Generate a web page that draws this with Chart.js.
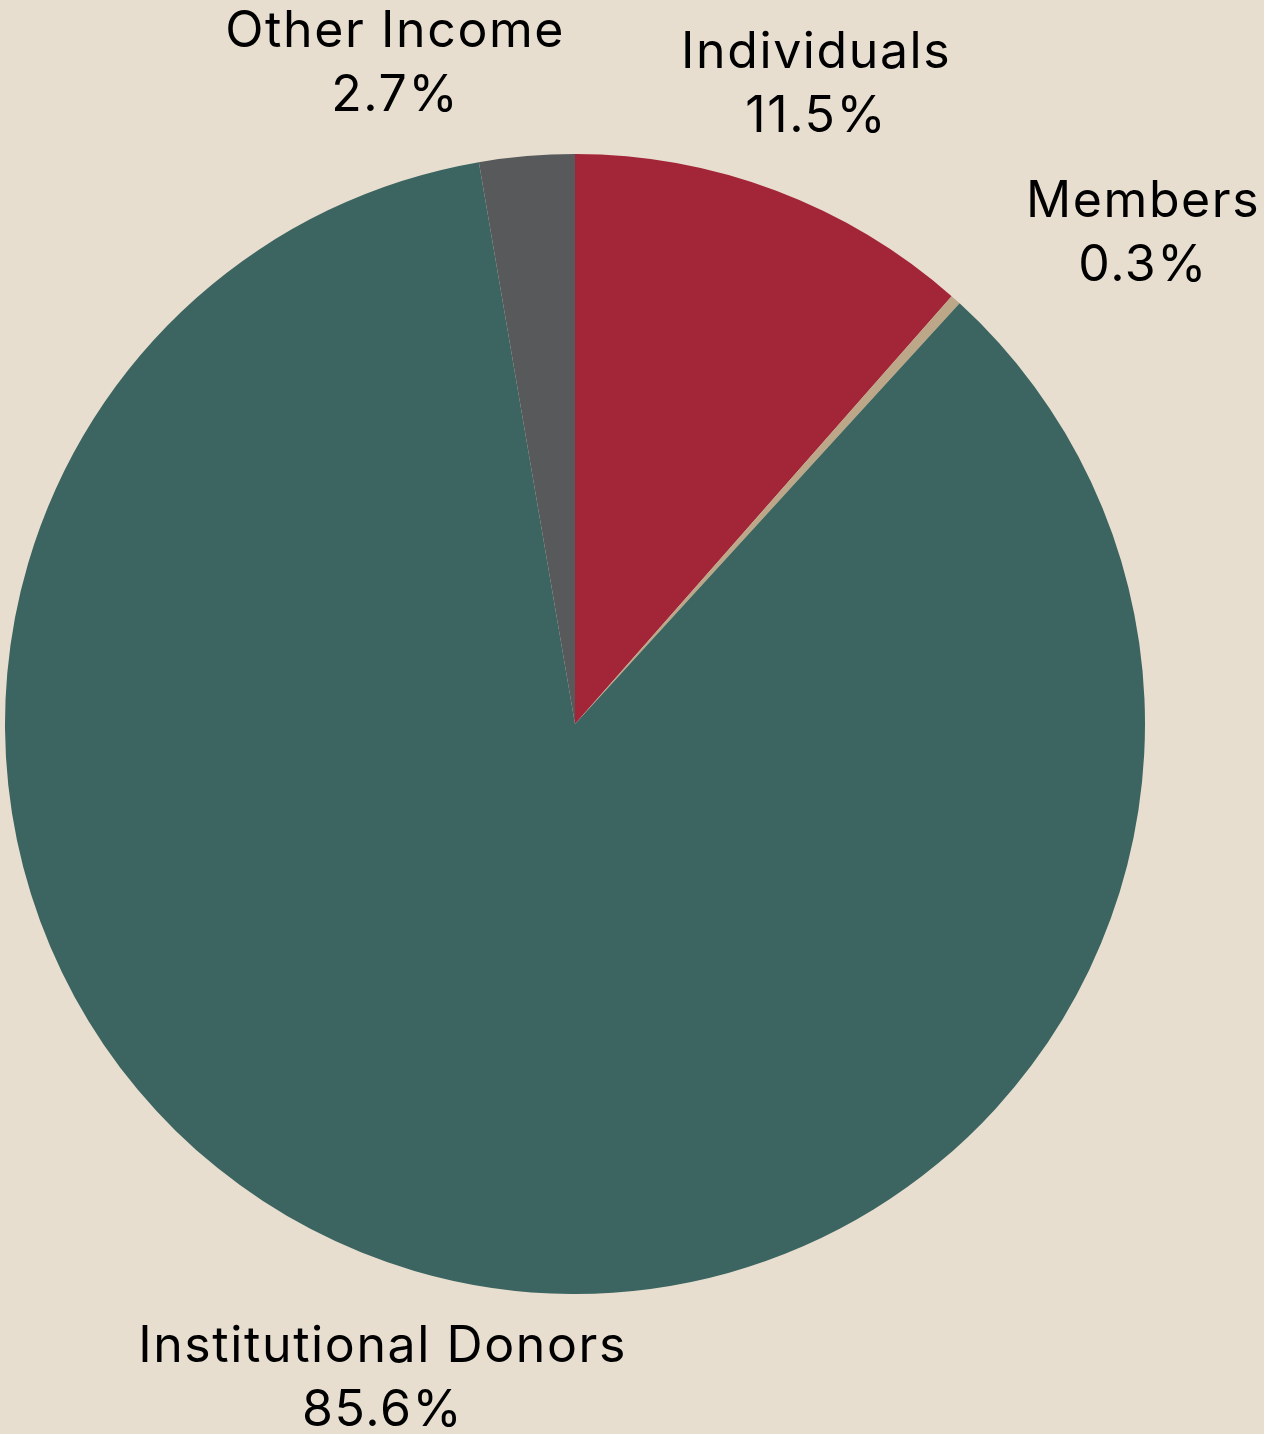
<!DOCTYPE html>
<html>
<head>
<meta charset="utf-8">
<script src="https://cdn.jsdelivr.net/npm/chart.js@4/dist/chart.umd.min.js"></script>
<style>
  html, body { margin: 0; padding: 0; background: #E7DED0; }
  #wrap { width: 1264px; height: 1434px; position: relative; }
</style>
</head>
<body>
<div id="wrap"><canvas id="c" width="1264" height="1434"></canvas></div>
<script>
const categories = ["Individuals", "Members", "Institutional Donors", "Other Income"];
const shares = [11.5, 0.3, 85.6, 2.7];
const colors = ["#A32638", "#BCA789", "#3C6460", "#58595B"];
// label nudges (px) to avoid collisions, as in the reference
const labelNudgeX = [0, 112, 0, -122];
const labelNudgeY = [0, 18, 0, 21];

const labelPlugin = {
  id: 'outerLabels',
  afterDatasetsDraw(chart) {
    const ctx = chart.ctx;
    const meta = chart.getDatasetMeta(0);
    ctx.save();
    ctx.font = '50px Inter, "Open Sans", sans-serif';
    if ('letterSpacing' in ctx) ctx.letterSpacing = '1.6px';
    ctx.fillStyle = '#000';
    ctx.textAlign = 'center';
    ctx.textBaseline = 'middle';
    meta.data.forEach((arc, i) => {
      const p = arc.getProps(['x', 'y', 'startAngle', 'endAngle', 'outerRadius'], true);
      const mid = (p.startAngle + p.endAngle) / 2;
      const d = p.outerRadius + 113;
      const cx = p.x + Math.cos(mid) * d + labelNudgeX[i];
      const cy = p.y + Math.sin(mid) * d + labelNudgeY[i];
      ctx.fillText(categories[i], cx, cy - 32);
      ctx.fillText(shares[i].toFixed(1) + '%', cx, cy + 32);
    });
    ctx.restore();
  }
};

new Chart(document.getElementById('c'), {
  type: 'pie',
  data: {
    labels: categories,
    datasets: [{ data: shares, backgroundColor: colors, borderWidth: 0 }]
  },
  options: {
    responsive: false,
    animation: false,
    layout: { padding: { left: 5, right: 119, top: 154, bottom: 140 } },
    plugins: { legend: { display: false }, tooltip: { enabled: false } }
  },
  plugins: [labelPlugin]
});
</script>
</body>
</html>
